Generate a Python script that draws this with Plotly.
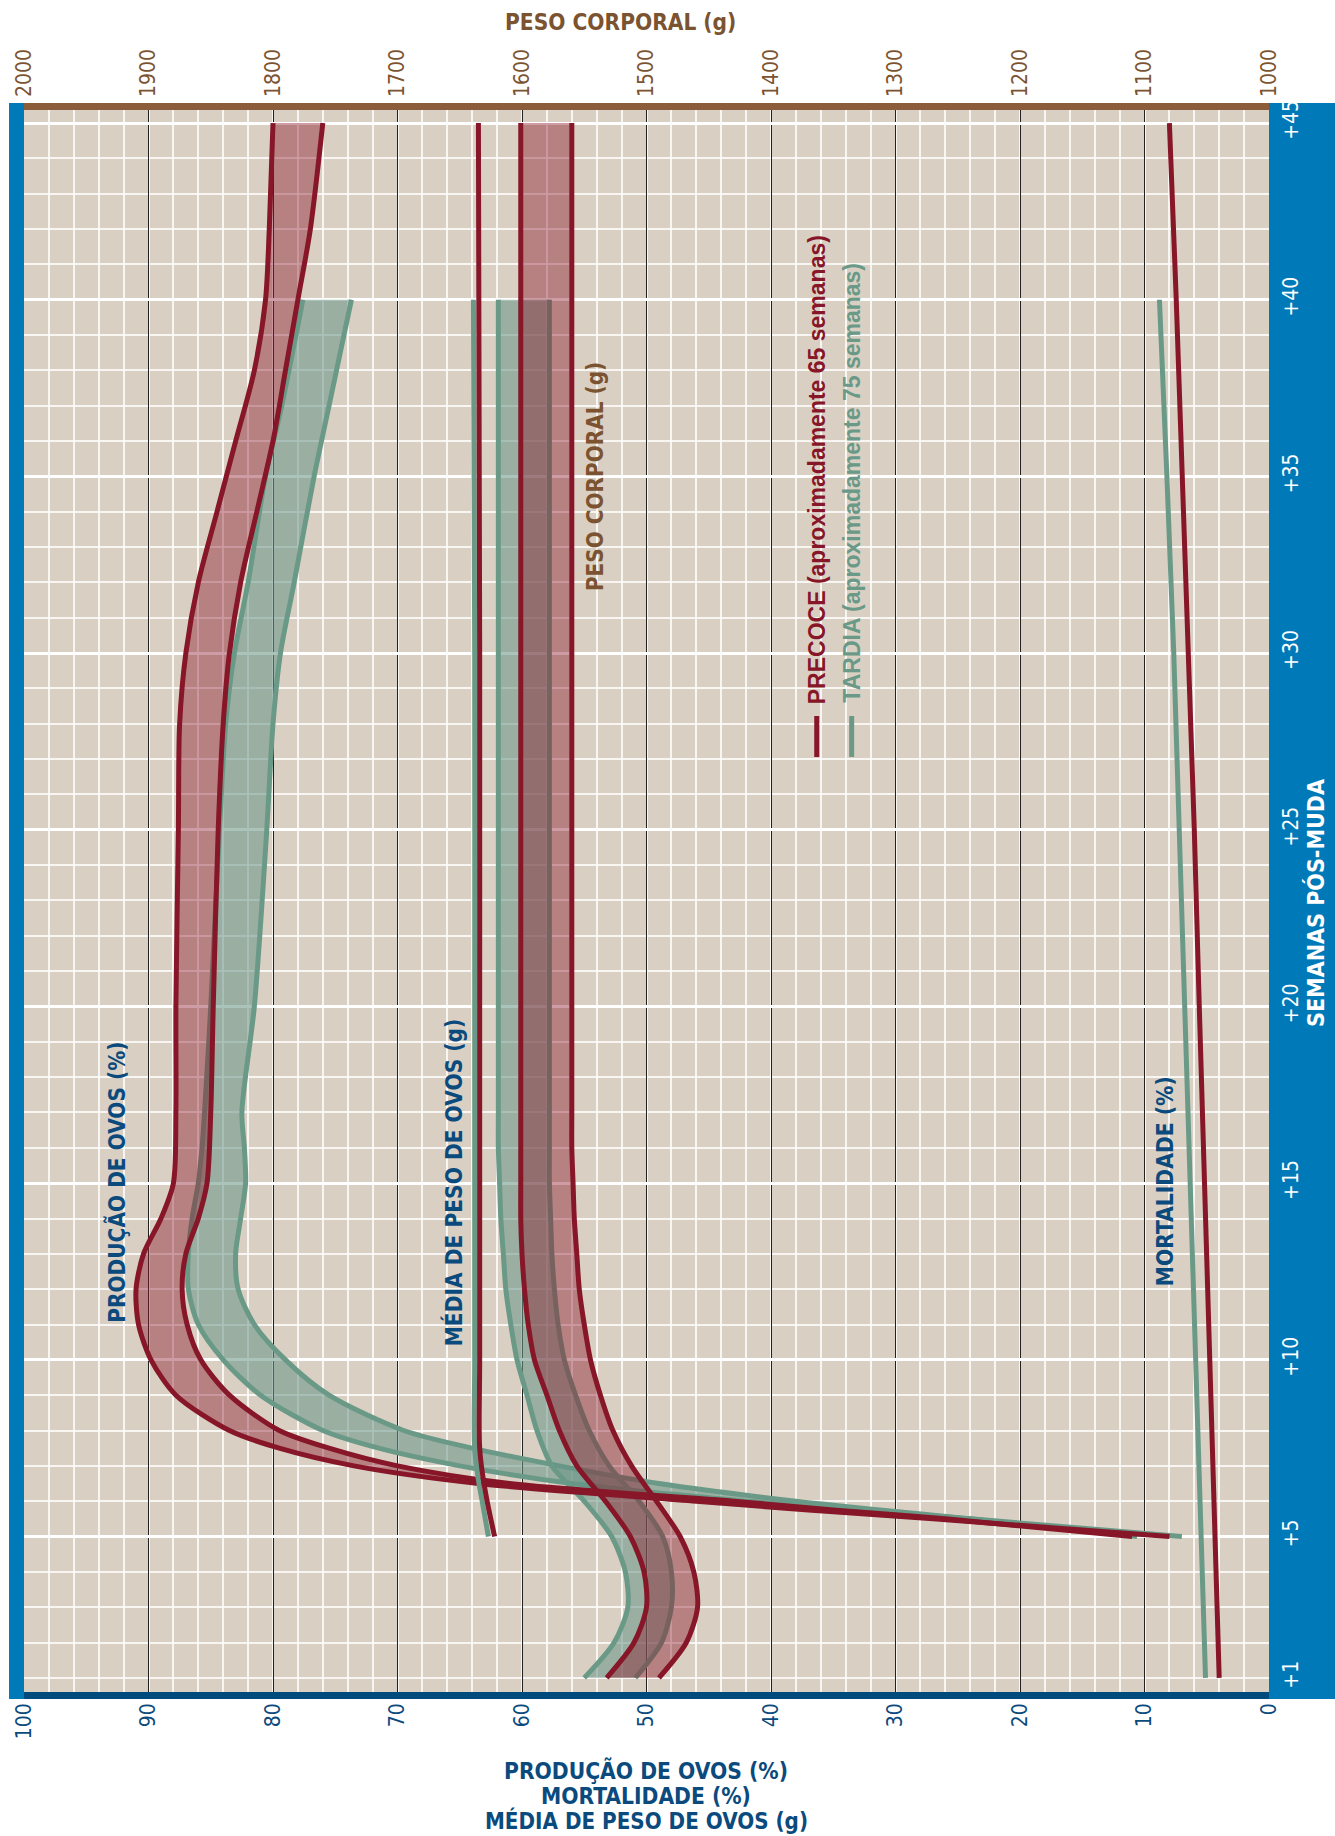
import plotly.graph_objects as go

# ---------------- DATA ----------------
# Egg production (%) - PRECOCE (early) band
wk_prod_red = [5, 5.5, 5.75, 6, 6.5, 7, 7.5, 8, 9, 10, 11, 12, 13, 14, 15, 17, 20, 25, 28, 30, 32, 34, 36, 38, 40, 42, 45]
prod_red_hi = [8, 27, 37, 46, 63.5, 73.5, 79.5, 83.5, 87.8, 89.8, 90.8, 91, 90.4, 89, 88, 87.8, 87.8, 87.6, 87.5, 87, 86, 84.5, 83, 81.5, 80.6, 80.3, 80]
prod_red_lo = [11, 26, 35, 43, 61, 70, 75.5, 79.5, 83.5, 85.8, 86.9, 87.3, 87, 86, 85.3, 85, 84.8, 84.4, 84, 83.5, 82.6, 81.3, 80, 79, 78, 77, 76]

# Egg production (%) - TARDIA (late) band
wk_prod_grn = [5, 5.5, 6, 6.5, 7, 7.5, 8, 9, 10, 11, 12, 13, 14, 15, 16, 17, 20, 25, 28, 30, 32, 35, 37, 40]
prod_grn_hi = [7, 24, 42, 56, 65, 71.5, 76, 81, 84, 86, 86.8, 86.8, 86.5, 86, 85.7, 85.5, 85, 84.3, 83.8, 83.1, 82, 80.6, 79.3, 77.6]
prod_grn_lo = [10.6, 24, 38, 49, 57, 64, 69.5, 75.5, 79, 81.5, 82.8, 83, 82.6, 82.2, 82.3, 82.5, 81.5, 80.5, 80, 79.4, 78.3, 76.7, 75.5, 73.7]

# Average egg weight (g)
wk_egg_red = [1, 2, 3, 4, 5, 6, 7, 8, 9, 10, 11, 12, 13, 14, 15, 16, 17, 20, 30, 45]
egg_red_hi = [53.2, 51.0, 50.0, 50.2, 51.3, 53.3, 55.6, 57.0, 58.0, 59.0, 59.5, 59.8, 60.0, 60.1, 60.1, 60.1, 60.1, 60.1, 60.1, 60.1]
egg_red_lo = [49.0, 46.8, 45.9, 46.2, 47.3, 49.2, 51.2, 52.7, 53.7, 54.5, 55.0, 55.4, 55.6, 55.8, 55.9, 56.0, 56.0, 56.0, 56.0, 56.0]
wk_egg_grn = [1, 2, 3, 4, 5, 6, 7, 8, 9, 10, 11, 12, 13, 14, 15, 16, 17, 20, 30, 40]
egg_grn_hi = [55.0, 52.6, 51.5, 51.7, 52.8, 55.0, 57.6, 58.8, 59.6, 60.4, 60.9, 61.3, 61.5, 61.7, 61.8, 61.9, 61.9, 61.9, 61.9, 61.9]
egg_grn_lo = [50.9, 48.8, 48.0, 48.0, 48.7, 50.6, 53.0, 54.6, 55.7, 56.6, 57.1, 57.4, 57.6, 57.7, 57.8, 57.8, 57.8, 57.8, 57.8, 57.8]

# Body weight (g)
wk_bw_red = [5, 6, 6.6, 7.5, 10, 20, 30, 45]
bw_red = [1622, 1628, 1631, 1634, 1634, 1634, 1634, 1635]
wk_bw_grn = [5, 6, 6.6, 7.5, 10, 20, 30, 40]
bw_grn = [1627, 1632, 1635, 1638, 1638, 1638, 1638, 1639]

# Mortality (%)
wk_mort_red = [1, 5, 10, 15, 20, 25, 30, 35, 40, 45]
mort_red = [4.0, 4.35, 4.8, 5.2, 5.6, 6.0, 6.45, 6.95, 7.45, 8.0]
wk_mort_grn = [1, 5, 10, 15, 20, 25, 30, 35, 40]
mort_grn = [5.1, 5.45, 5.9, 6.3, 6.7, 7.15, 7.65, 8.2, 8.8]

# Axis ticks
val_ticks = list(range(0, 101, 10))
val_minor = list(range(0, 101, 2))
bw_ticks = list(range(1000, 2001, 100))
week_ticks = [1, 5, 10, 15, 20, 25, 30, 35, 40, 45]
week_labels = ["+" + str(w) for w in week_ticks]
week_major = [5, 10, 15, 20, 25, 30, 35, 40, 45]
week_minor = list(range(1, 46))

# ---------------- STYLE ----------------
W, H = 1335, 1836
L, R, T, B = 22, 1269, 110, 1692
RED = '#861628'
GRN = '#6a9a87'
RED_FILL = 'rgba(139,26,43,0.43)'
GRN_FILL = 'rgba(106,150,135,0.57)'
NAVY = '#0b4a7d'
BLUE = '#0079b8'
BROWN = '#8b5d3b'
BROWN_T = '#7b5331'
BG = '#d9d0c3'
NARROW = 'DejaVu Sans Condensed, DejaVu Sans, sans-serif'
SANS = 'Liberation Sans, Arial, sans-serif'
LW = 5


def pxx(x):
    return (x - L) / (R - L)


def pxy(y):
    return (B - y) / (B - T)


fig = go.Figure()


def band(wk, lo, hi, color, fill, xaxis='x'):
    fig.add_trace(go.Scatter(x=lo, y=wk, mode='lines', xaxis=xaxis,
                             line=dict(color=color, width=LW, shape='spline', smoothing=0.8),
                             hoverinfo='skip', showlegend=False))
    fig.add_trace(go.Scatter(x=hi, y=wk, mode='lines', xaxis=xaxis, fill='tonextx', fillcolor=fill,
                             line=dict(color=color, width=LW, shape='spline', smoothing=0.8),
                             hoverinfo='skip', showlegend=False))


band(wk_prod_grn, prod_grn_lo, prod_grn_hi, GRN, GRN_FILL)
band(wk_egg_grn, egg_grn_lo, egg_grn_hi, GRN, GRN_FILL)
band(wk_prod_red, prod_red_lo, prod_red_hi, RED, RED_FILL)
band(wk_egg_red, egg_red_lo, egg_red_hi, RED, RED_FILL)

fig.add_trace(go.Scatter(x=mort_grn, y=wk_mort_grn, mode='lines', line=dict(color=GRN, width=LW),
                         showlegend=False, hoverinfo='skip'))
fig.add_trace(go.Scatter(x=mort_red, y=wk_mort_red, mode='lines', line=dict(color=RED, width=LW),
                         showlegend=False, hoverinfo='skip'))
fig.add_trace(go.Scatter(x=bw_grn, y=wk_bw_grn, mode='lines', xaxis='x2',
                         line=dict(color=GRN, width=LW, shape='spline'), showlegend=False, hoverinfo='skip'))
fig.add_trace(go.Scatter(x=bw_red, y=wk_bw_red, mode='lines', xaxis='x2',
                         line=dict(color=RED, width=LW, shape='spline'), showlegend=False, hoverinfo='skip'))
# invisible trace to anchor the week label axis
fig.add_trace(go.Scatter(x=[50], y=[20], yaxis='y2', mode='markers', marker=dict(opacity=0),
                         showlegend=False, hoverinfo='skip'))

yr = [0.6, 45.37]
WHITE_MINOR = 'rgba(255,255,255,0.8)'

fig.update_layout(
    width=W, height=H,
    margin=dict(l=L, r=W - R, t=T, b=H - B, pad=0),
    paper_bgcolor='white', plot_bgcolor=BG,
    xaxis=dict(range=[100, 0], tickmode='array', tickvals=val_ticks, tickangle=-90,
               tickfont=dict(family=NARROW, size=21, color=NAVY), ticks='', ticklabelstandoff=6,
               showgrid=True, gridcolor='#222222', gridwidth=1.4, zeroline=False, showline=False,
               minor=dict(tickmode='array', tickvals=val_minor, showgrid=True, gridcolor=WHITE_MINOR, gridwidth=1.5)),
    xaxis2=dict(range=[2000, 1000], overlaying='x', side='top', tickmode='array', tickvals=bw_ticks,
                tickangle=-90, tickfont=dict(family=NARROW, size=21, color=BROWN_T), ticks='',
                ticklabelstandoff=12, showgrid=False, zeroline=False, showline=False),
    yaxis=dict(range=yr, showticklabels=False, tickmode='array', tickvals=week_major,
               showgrid=True, gridcolor='white', gridwidth=3.2, zeroline=False, ticks='',
               minor=dict(tickmode='array', tickvals=week_minor, showgrid=True, gridcolor=WHITE_MINOR, gridwidth=1.5)),
    yaxis2=dict(range=yr, overlaying='y', side='right', tickmode='array', tickvals=week_ticks,
                ticktext=week_labels, tickangle=-90, tickfont=dict(family=NARROW, size=21, color='white'),
                ticks='', showgrid=False, zeroline=False, showline=False, ticklabelstandoff=7),
)

shapes = [
    dict(type='rect', xref='paper', yref='paper', x0=pxx(7), x1=pxx(L), y0=pxy(1699), y1=pxy(103),
         fillcolor=BLUE, line=dict(width=0), layer='below'),
    dict(type='rect', xref='paper', yref='paper', x0=pxx(R), x1=pxx(W + 2), y0=pxy(1699), y1=pxy(103),
         fillcolor=BLUE, line=dict(width=0), layer='below'),
    dict(type='rect', xref='paper', yref='paper', x0=pxx(L), x1=pxx(R), y0=pxy(T), y1=pxy(103),
         fillcolor=BROWN, line=dict(width=0), layer='below'),
    dict(type='rect', xref='paper', yref='paper', x0=pxx(L), x1=pxx(R), y0=pxy(1699), y1=pxy(B),
         fillcolor='#004a7c', line=dict(width=0), layer='below'),
    dict(type='line', xref='paper', yref='paper', x0=pxx(816), x1=pxx(816), y0=pxy(716), y1=pxy(757),
         line=dict(color=RED, width=LW), layer='above'),
    dict(type='line', xref='paper', yref='paper', x0=pxx(851), x1=pxx(851), y0=pxy(716), y1=pxy(757),
         line=dict(color=GRN, width=LW), layer='above'),
]
fig.update_layout(shapes=shapes)


def ann(text, x, y, color, size, angle=0, family=NARROW, xanchor='center', yanchor='middle'):
    return dict(text=text, xref='paper', yref='paper', x=pxx(x), y=pxy(y), showarrow=False,
                textangle=angle, font=dict(family=family, size=size, color=color),
                xanchor=xanchor, yanchor=yanchor)


annotations = [
    ann('<b>PESO CORPORAL (g)</b>', 619, 22, BROWN_T, 22.5),
    ann('<b>PRODUÇÃO DE OVOS (%)</b>', 645, 1771, NAVY, 22.6),
    ann('<b>MORTALIDADE (%)</b>', 645, 1796, NAVY, 22.6),
    ann('<b>MÉDIA DE PESO DE OVOS (g)</b>', 645, 1820, NAVY, 22.2),
    ann('<b>SEMANAS PÓS-MUDA</b>', 1316, 903, 'white', 23, -90),
    ann('<b>PRODUÇÃO DE OVOS (%)</b>', 114, 1182, NAVY, 22.4, -90),
    ann('<b>MÉDIA DE PESO DE OVOS (g)</b>', 452, 1182, NAVY, 22.5, -90),
    ann('<b>PESO CORPORAL (g)</b>', 594, 477, BROWN_T, 22.3, -90),
    ann('<b>MORTALIDADE (%)</b>', 1165, 1181, NAVY, 22.6, -90),
    ann('<b>PRECOCE (aproximadamente 65 semanas)</b>', 816, 706, RED, 23, -90, SANS, yanchor='bottom'),
    ann('<b>TARDIA (aproximadamente 75 semanas)</b>', 851, 705, GRN, 23, -90, SANS, yanchor='bottom'),
]
fig.update_layout(annotations=annotations)

fig.write_html('out.html', config={'displayModeBar': False},
               post_script="document.body.style.margin='0px';document.body.style.overflow='hidden';")
